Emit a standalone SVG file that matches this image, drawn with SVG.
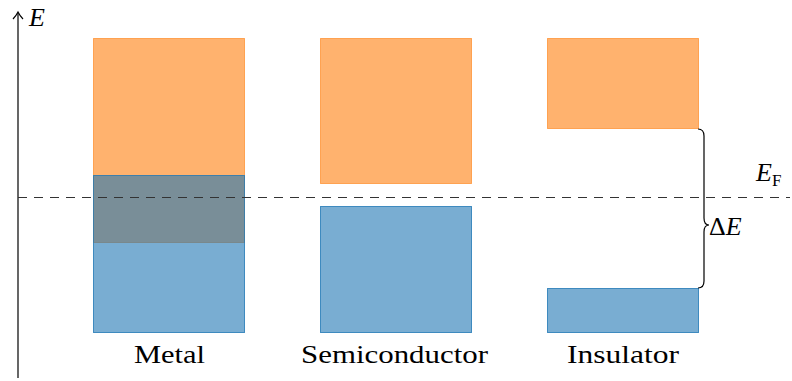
<svg xmlns="http://www.w3.org/2000/svg" width="792" height="381" viewBox="0 0 792 381">
<style>
.o{fill:#ff7f0e;fill-opacity:0.6;stroke:#ff7f0e;stroke-opacity:0.6;stroke-width:1}
.b{fill:#1f77b4;fill-opacity:0.6;stroke:#1f77b4;stroke-opacity:0.8;stroke-width:1}
text{font-family:'Liberation Serif','DejaVu Serif',serif;font-size:26px;fill:#000}
.i{font-style:italic}
.ln{stroke:#000;fill:none;stroke-width:1.2}
</style>
<g id="axis">
<line class="ln" x1="18" y1="378" x2="18" y2="13"/>
<path class="ln" d="M13,19 Q16,16 18,12 Q20,16 23,19"/>
<text class="i" x="29" y="26">E</text>
</g>
<g id="metal">
<rect class="o" x="93.5" y="38.5" width="151" height="204"/>
<rect class="b" x="93.5" y="175.5" width="151" height="157"/>
<text x="134" y="363" textLength="71" lengthAdjust="spacingAndGlyphs">Metal</text>
</g>
<g id="semiconductor">
<rect class="o" x="320.5" y="38.5" width="151" height="145"/>
<rect class="b" x="320.5" y="206.5" width="151" height="126"/>
<text x="301" y="363" textLength="187" lengthAdjust="spacingAndGlyphs">Semiconductor</text>
</g>
<g id="insulator">
<rect class="o" x="547.5" y="38.5" width="151" height="90"/>
<rect class="b" x="547.5" y="288.5" width="151" height="44"/>
<text x="567" y="363" textLength="112" lengthAdjust="spacingAndGlyphs">Insulator</text>
</g>
<g id="connectors">
<line x1="18" y1="197.5" x2="790" y2="197.5" stroke="#333" stroke-width="1.2" stroke-dasharray="9,7"/>
<path class="ln" d="M698,129 Q704,129 704,136 L704,218 Q704,225 709,225 Q704,225 704,232 L704,281 Q704,288 698,288"/>
</g>
<g id="labels">
<text class="i" x="756" y="181">E<tspan font-size="17" font-style="normal" dy="5">F</tspan></text>
<text x="709" y="235">Δ<tspan class="i">E</tspan></text>
</g>
</svg>
